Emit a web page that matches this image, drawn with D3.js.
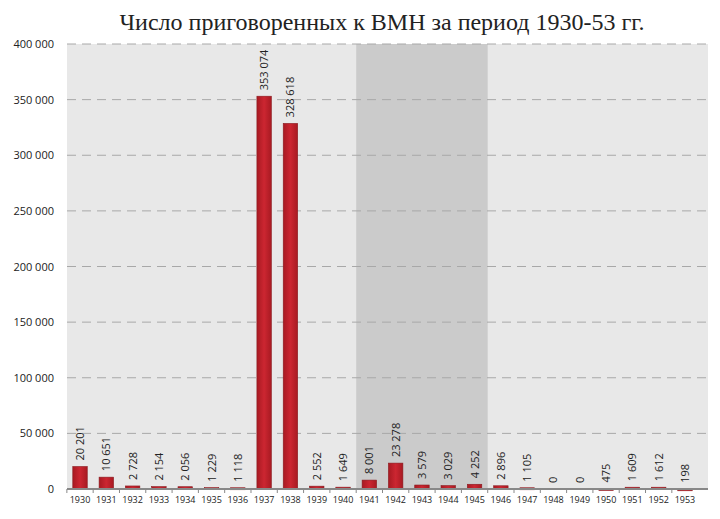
<!DOCTYPE html>
<html><head><meta charset="utf-8">
<script src="https://cdn.jsdelivr.net/npm/d3@7"></script>
<style>body{margin:0;background:#fff}</style>
</head><body><div id="chart"></div>
<script>
var years = ['1930','1931','1932','1933','1934','1935','1936','1937','1938','1939','1940','1941','1942','1943','1944','1945','1946','1947','1948','1949','1950','1951','1952','1953'];
var sentenced = [20201,10651,2728,2154,2056,1229,1118,353074,328618,2552,1649,8001,23278,3579,3029,4252,2896,1105,0,0,475,1609,1612,198];
var yTicks = [0,50000,100000,150000,200000,250000,300000,350000,400000];
var warYears = ['1941','1945'];

var W = 720, H = 519;
var svg = d3.select('#chart').append('svg').attr('width', W).attr('height', H);
var defs = svg.append('defs');
var grad = defs.append('linearGradient').attr('id', 'barGrad');
grad.append('stop').attr('offset', '0%').attr('stop-color', '#a81a22');
grad.append('stop').attr('offset', '50%').attr('stop-color', '#cc2631');
grad.append('stop').attr('offset', '100%').attr('stop-color', '#a81a22');

var x = d3.scaleBand().domain(years).range([67, 698]).paddingInner(0.45).paddingOuter(0.22);
var y = d3.scaleLinear().domain([0, 400000]).range([489, 44]);
var fmt = function (v) { return d3.format(',')(v).replace(/,/g, ' '); };

svg.append('rect').attr('x', 67).attr('y', 44).attr('width', 641).attr('height', 445).attr('fill', '#e8e8e8');
var step = x.step();
var bandX0 = x(warYears[0]) - x.bandwidth() * 0.0 - (step - x.bandwidth()) / 2;
var bandX1 = x(warYears[1]) + x.bandwidth() + (step - x.bandwidth()) / 2;
svg.append('rect').attr('x', bandX0).attr('y', 44).attr('width', bandX1 - bandX0).attr('height', 445).attr('fill', '#cbcbcb');

svg.append('g').selectAll('line').data(yTicks.slice(1)).enter().append('line')
    .attr('x1', 67).attr('x2', 708)
    .attr('y1', function (d) { return y(d); }).attr('y2', function (d) { return y(d); })
    .attr('stroke', '#a8a8a8').attr('stroke-dasharray', '9,6');

svg.append('g').selectAll('text').data(yTicks).enter().append('text')
    .attr('x', 54).attr('y', function (d) { return y(d) + 4; })
    .attr('text-anchor', 'end').attr('font-family', 'Open Sans').attr('font-size', 11).attr('fill', '#222')
    .text(fmt);

svg.append('g').selectAll('rect').data(sentenced).enter().append('rect')
    .attr('x', function (d, i) { return x(years[i]); })
    .attr('y', function (d) { return y(d) - (d > 0 ? 0 : 0); })
    .attr('width', x.bandwidth())
    .attr('height', function (d) { return Math.max(489 - y(d), d > 0 ? 2 : 0); })
    .attr('fill', 'url(#barGrad)').attr('stroke', '#8a1a1f').attr('stroke-width', 0.6);

// axis line
var axis = d3.axisBottom(x).tickSize(3).tickSizeOuter(0);
var ga = svg.append('g').attr('transform', 'translate(0,489)').call(axis);
ga.select('.domain').attr('stroke', '#888').attr('stroke-width', 2).attr('d', 'M67,0H708');
ga.selectAll('.tick line').attr('stroke', '#888').attr('x1', -step / 2).attr('x2', -step / 2).attr('y2', 4);
ga.selectAll('.tick text').attr('font-family', 'Open Sans').attr('font-size', 9).attr('fill', '#222').attr('dy', '0.9em');

svg.append('g').selectAll('text').data(sentenced).enter().append('text')
    .attr('transform', function (d, i) {
        var cx = x(years[i]) + x.bandwidth() / 2 + 4;
        return 'translate(' + cx + ',' + (y(d) - 6) + ') rotate(-90)';
    })
    .attr('font-family', 'Open Sans').attr('font-size', 11).attr('fill', '#222')
    .text(fmt);

svg.append('text').attr('x', 382).attr('y', 30).attr('text-anchor', 'middle')
    .attr('font-family', 'Liberation Serif').attr('font-size', 24).attr('fill', '#222')
    .text('Число приговоренных к ВМН за период 1930-53 гг.');
</script></body></html>
